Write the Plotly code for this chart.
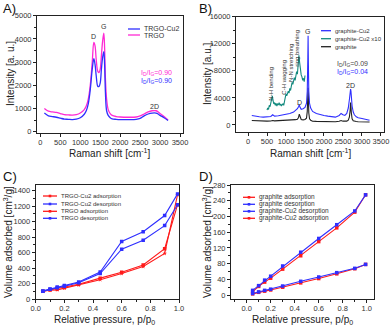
import plotly.graph_objects as go

# ---------------- Panel A data (Raman) ----------------
a_x = [100, 200, 300, 400, 500, 600, 700, 800, 900, 1000, 1100, 1150, 1200, 1250, 1300, 1340, 1370, 1400,
       1440, 1470, 1500, 1530, 1560, 1590, 1610, 1630, 1660, 1700, 1750, 1800, 1900, 2000, 2200, 2400,
       2500, 2600, 2700, 2800, 2900, 2950, 3000, 3100, 3200]
a_trgo = [1000, 880, 850, 830, 780, 730, 720, 710, 730, 800, 950, 1100, 1400, 2000, 3000, 3850, 3700, 3100,
          2600, 2550, 2700, 3300, 3900, 4250, 3600, 2300, 1400, 950, 780, 700, 650, 630, 620, 630,
          680, 760, 850, 900, 900, 850, 780, 650, 500]
a_trgo_cu2 = [800, 680, 650, 620, 580, 540, 530, 520, 540, 600, 750, 900, 1200, 1800, 2700, 3150, 2900, 2400,
              1950, 1950, 2100, 2700, 3200, 3450, 2900, 1700, 900, 700, 600, 550, 530, 520, 520, 530,
              570, 680, 760, 800, 800, 760, 700, 600, 480]

# ---------------- Panel B data (Raman) ----------------
b_x = [100, 200, 300, 400, 500, 600, 650, 700, 800, 900, 1000, 1100, 1200, 1250, 1300, 1330, 1350, 1370,
       1400, 1450, 1500, 1540, 1560, 1575, 1582, 1590, 1600, 1620, 1650, 1700, 1800, 1900, 2000, 2100,
       2200, 2300, 2400, 2450, 2500, 2550, 2600, 2640, 2670, 2690, 2700, 2710, 2720, 2740, 2770, 2800,
       2850, 2900, 3000, 3100, 3200]
b_gcu2 = [1400, 1250, 1200, 1150, 1200, 1250, 1500, 1300, 1350, 1450, 1550, 1700, 1900, 2100, 2400, 2700,
          3000, 2600, 2300, 2400, 2600, 3200, 5000, 10000, 13200, 9000, 5000, 3200, 2500, 2000, 1700, 1500,
          1400, 1300, 1200, 1150, 1400, 1700, 1500, 1400, 1700, 2500, 3800, 5000, 5300, 5000, 4200, 2800,
          1900, 1500, 1200, 1050, 950, 850, 700]
b_graphite = [650, 600, 580, 560, 560, 580, 650, 600, 620, 650, 680, 700, 750, 780, 850, 1100, 1600, 1100,
              800, 750, 800, 1000, 2000, 4500, 5500, 4000, 1800, 900, 700, 550, 520, 500, 500, 480, 470,
              480, 550, 650, 560, 520, 560, 700, 1200, 2200, 3300, 2800, 1800, 900, 600, 520, 500, 480,
              470, 460, 440]
b_x10_x = [500, 520, 540, 560, 580, 600, 620, 640, 660, 680, 700, 720, 740, 760, 780, 800, 820, 840, 860,
           880, 900, 920, 940, 960, 980, 1000, 1020, 1040, 1060, 1080, 1100, 1120, 1140, 1160, 1180, 1200,
           1220, 1240, 1260, 1280, 1300, 1320, 1340, 1360, 1380, 1400, 1420, 1440, 1460, 1480, 1500]
b_x10_y = [2200, 2500, 2300, 2900, 2700, 3300, 3900, 4300, 3600, 3100, 3300, 2900, 3200, 2800, 3100, 3000,
           3300, 2900, 3100, 2800, 3000, 3100, 2900, 3400, 3800, 4600, 4300, 4800, 5000, 4700, 5400, 5100,
           5800, 6300, 6000, 6900, 7000, 6600, 7400, 7900, 7500, 8600, 10300, 9200, 8100, 7400, 7100, 6600,
           6900, 6400, 7300]

# ---------------- Panel C data (isotherms) ----------------
c_p = [0.05, 0.1, 0.15, 0.2, 0.3, 0.45, 0.6, 0.75, 0.9, 0.99]
c_cu2_ads = [100, 115, 118, 140, 180, 250, 330, 420, 590, 1350]
c_cu2_des = [105, 130, 155, 175, 220, 350, 745, 870, 1080, 1360]
c_trgo_ads = [100, 118, 130, 150, 190, 270, 345, 440, 650, 1220]
c_trgo_des = [100, 125, 145, 165, 210, 330, 645, 760, 950, 1220]

# ---------------- Panel D data (isotherms) ----------------
d_p = [0.05, 0.1, 0.15, 0.2, 0.3, 0.45, 0.6, 0.75, 0.9, 0.99]
d_g_ads = [8, 22, 33, 43, 66, 100, 136, 171, 211, 255]
d_g_des = [12, 24, 38, 48, 74, 109, 144, 179, 214, 255]
d_gcu2_des = [4, 8, 12, 15, 23, 35, 46, 57, 68, 78]
d_gcu2_ads = [3, 7, 10, 13, 20, 31, 42, 54, 67, 78]

W, H = 392, 329
FONT = "Liberation Sans, Arial, sans-serif"
BLUE = "#2f2fff"
MAG = "#ff2ad4"
RED = "#ff1a1a"
TEAL = "#138a7e"
BLACK = "#222222"

fig = go.Figure()

# A
fig.add_trace(go.Scatter(x=a_x, y=a_trgo, mode="lines", line=dict(color=MAG, width=1.3, shape="spline"),
                         xaxis="x", yaxis="y", showlegend=False))
fig.add_trace(go.Scatter(x=a_x, y=a_trgo_cu2, mode="lines", line=dict(color=BLUE, width=1.3, shape="spline"),
                         xaxis="x", yaxis="y", showlegend=False))
# B
fig.add_trace(go.Scatter(x=b_x, y=b_graphite, mode="lines", line=dict(color=BLACK, width=1.1),
                         xaxis="x2", yaxis="y2", showlegend=False))
fig.add_trace(go.Scatter(x=b_x, y=b_gcu2, mode="lines", line=dict(color=BLUE, width=1.1),
                         xaxis="x2", yaxis="y2", showlegend=False))
fig.add_trace(go.Scatter(x=b_x10_x, y=b_x10_y, mode="lines", line=dict(color=TEAL, width=1.1),
                         xaxis="x2", yaxis="y2", showlegend=False))
# C
for ys, col, sym in [(c_cu2_ads, RED, "star"), (c_trgo_ads, RED, "square"),
                     (c_cu2_des, BLUE, "square"), (c_trgo_des, BLUE, "square")]:
    fig.add_trace(go.Scatter(x=c_p, y=ys, mode="lines+markers", line=dict(color=col, width=1.1),
                             marker=dict(symbol=sym, size=3.5, color=col),
                             xaxis="x3", yaxis="y3", showlegend=False))
# D
for ys, col in [(d_g_ads, RED), (d_gcu2_ads, RED), (d_g_des, BLUE), (d_gcu2_des, BLUE)]:
    fig.add_trace(go.Scatter(x=d_p, y=ys, mode="lines+markers", line=dict(color=col, width=1.1),
                             marker=dict(symbol="square", size=3.5, color=col),
                             xaxis="x4", yaxis="y4", showlegend=False))

tickfont = dict(family=FONT, size=7.5, color="#333333")
titlefont = dict(family=FONT, size=10, color="#222222")


def ax(domain, rng, dtick, anchor, fmt="d", is_x=True):
    d = dict(domain=domain, range=rng, dtick=dtick, anchor=anchor, showgrid=False, zeroline=False,
             showline=True, linecolor="#222", linewidth=1, mirror=True, ticks="outside", ticklen=3,
             tickwidth=1, tickcolor="#222", tickfont=tickfont, tickangle=0, automargin=False,
             tickformat=fmt,
             minor=dict(ticks="outside", ticklen=2, tickcolor="#222", nticks=2))
    if is_x:
        d["ticklabelstandoff"] = -1
    return d


fig.update_layout(
    width=W, height=H, margin=dict(l=0, r=0, t=0, b=0),
    paper_bgcolor="white", plot_bgcolor="white",
    xaxis=ax([37 / W, 183 / W], [-85, 3575], 500, "y"),
    yaxis=ax([1 - 133 / H, 1 - 15.7 / H], [-60, 5000], 1000, "x", is_x=False),
    xaxis2=ax([236 / W, 384 / W], [-316, 3580], 500, "y2"),
    yaxis2=ax([1 - 131.7 / H, 1 - 16.7 / H], [-1000, 16000], 4000, "x2", is_x=False),
    xaxis3=ax([35.7 / W, 179 / W], [0, 1.0], 0.2, "y3", fmt=".1f"),
    yaxis3=ax([1 - 299 / H, 1 - 185 / H], [0, 1475], 200, "x3", is_x=False),
    xaxis4=ax([231 / W, 374 / W], [-0.13, 1.06], 0.2, "y4", fmt=".1f"),
    yaxis4=ax([1 - 299 / H, 1 - 185 / H], [-10, 280], 40, "x4", is_x=False),
)

ann = []
small = dict(family=FONT, size=7, color="#333333")


def txt(x, y, t, xref, yref, font, xanchor="center", yanchor="middle", angle=0):
    ann.append(dict(x=x, y=y, text=t, xref=xref, yref=yref, showarrow=False, font=font,
                    xanchor=xanchor, yanchor=yanchor, textangle=angle))


def ptxt(xpx, ypx, t, font, xanchor="center", angle=0):
    txt(xpx / W, 1 - ypx / H, t, "paper", "paper", font, xanchor=xanchor, angle=angle)


# panel labels
plab = dict(family=FONT, size=13, color="#111")
ptxt(1, 9, "A)", plab, xanchor="left")
ptxt(197, 9, "B)", plab, xanchor="left")
ptxt(1, 176, "C)", plab, xanchor="left")
ptxt(197, 176, "D)", plab, xanchor="left")

# axis titles
ptxt(110, 153, "Raman shift [cm<sup>-1</sup>]", titlefont)
ptxt(310, 153, "Raman shift [cm<sup>-1</sup>]", titlefont)
ptxt(104, 320, "Relative pressure, p/p<sub>0</sub>", titlefont)
ptxt(302, 320, "Relative pressure, p/p<sub>0</sub>", titlefont)
ptxt(11, 74, "Intensity [a. u.]", titlefont, angle=-90)
ptxt(208, 74, "Intensity [a.u.]", titlefont, angle=-90)
ptxt(8, 242, "Volume adsorbed [cm<sup>3</sup>/g]", titlefont, angle=-90)
ptxt(207, 242, "Volume adsorbed [cm<sup>3</sup>/g]", titlefont, angle=-90)

# A labels
txt(1330, 4100, "D", "x", "y", small)
txt(1590, 4530, "G", "x", "y", small)
txt(2870, 1100, "2D", "x", "y", small)
txt(2480, 2540, "I<sub>D</sub>/I<sub>G</sub>=0.90", "x", "y", dict(family=FONT, size=7, color=MAG), xanchor="left")
txt(2480, 2170, "I<sub>D</sub>/I<sub>G</sub>=0.90", "x", "y", dict(family=FONT, size=7, color=BLUE), xanchor="left")

# B labels
txt(1560, 13800, "G", "x2", "y2", small)
txt(1350, 3300, "D", "x2", "y2", small)
txt(2700, 5800, "2D", "x2", "y2", small)
txt(2280, 9050, "I<sub>D</sub>/I<sub>G</sub>=0.09", "x2", "y2", dict(family=FONT, size=7, color="#444"), xanchor="left")
txt(2280, 7780, "I<sub>D</sub>/I<sub>G</sub>=0.04", "x2", "y2", dict(family=FONT, size=7, color=BLUE), xanchor="left")
rot = dict(family=FONT, size=6, color="#333333")
txt(597, 6050, "N-H bending", "x2", "y2", rot, angle=-90)
txt(947, 7130, "C-H wagging", "x2", "y2", rot, angle=-90)
txt(1131, 9160, "N-N stretching", "x2", "y2", rot, angle=-90)
txt(1280, 11370, "ring breathing", "x2", "y2", rot, angle=-90)

# legends (drawn as keys in paper space)
shapes = []


def key(x0, x1, ypx, label, col, marker=None, fs=7):
    y = 1 - ypx / H
    shapes.append(dict(type="line", xref="paper", yref="paper", x0=x0 / W, x1=x1 / W, y0=y, y1=y,
                       line=dict(color=col, width=1.3)))
    if marker:
        xm = (x0 + x1) / 2
        shapes.append(dict(type="rect", xref="paper", yref="paper", x0=(xm - 1.3) / W, x1=(xm + 1.3) / W,
                           y0=y - 1.3 / H, y1=y + 1.3 / H, fillcolor=col, line=dict(width=0)))
    txt((x1 + 2) / W, y, label, "paper", "paper", dict(family=FONT, size=fs, color="#333"), xanchor="left")


key(128, 140, 29, "TRGO-Cu2", BLUE)
key(128, 140, 35, "TRGO", MAG)
key(321, 331, 30.7, "graphite-Cu2", BLUE, fs=6)
key(321, 331, 38.7, "graphite-Cu2 x10", TEAL, fs=6)
key(321, 331, 46.7, "graphite", BLACK, fs=6)
key(43, 57, 196, "TRGO-Cu2 adsorption", RED, marker=True, fs=6)
key(43, 57, 204, "TRGO-Cu2 desorption", BLUE, marker=True, fs=6)
key(43, 57, 211.3, "TRGO adsorption", RED, marker=True, fs=6)
key(43, 57, 218.3, "TRGO desorption", BLUE, marker=True, fs=6)
key(243, 255, 197.3, "graphite adsorption", RED, marker=True, fs=6.5)
key(243, 255, 204.3, "graphite desorption", BLUE, marker=True, fs=6.5)
key(243, 255, 211.3, "graphite-Cu2 desorption", BLUE, marker=True, fs=6.5)
key(243, 255, 218.3, "graphite-Cu2 adsorption", RED, marker=True, fs=6.5)

fig.update_layout(annotations=ann, shapes=shapes)
fig.write_html("out.html", config={"displayModeBar": False},
               post_script="document.body.style.margin='0';document.body.style.padding='0';"
                           "document.body.style.overflow='hidden';")
